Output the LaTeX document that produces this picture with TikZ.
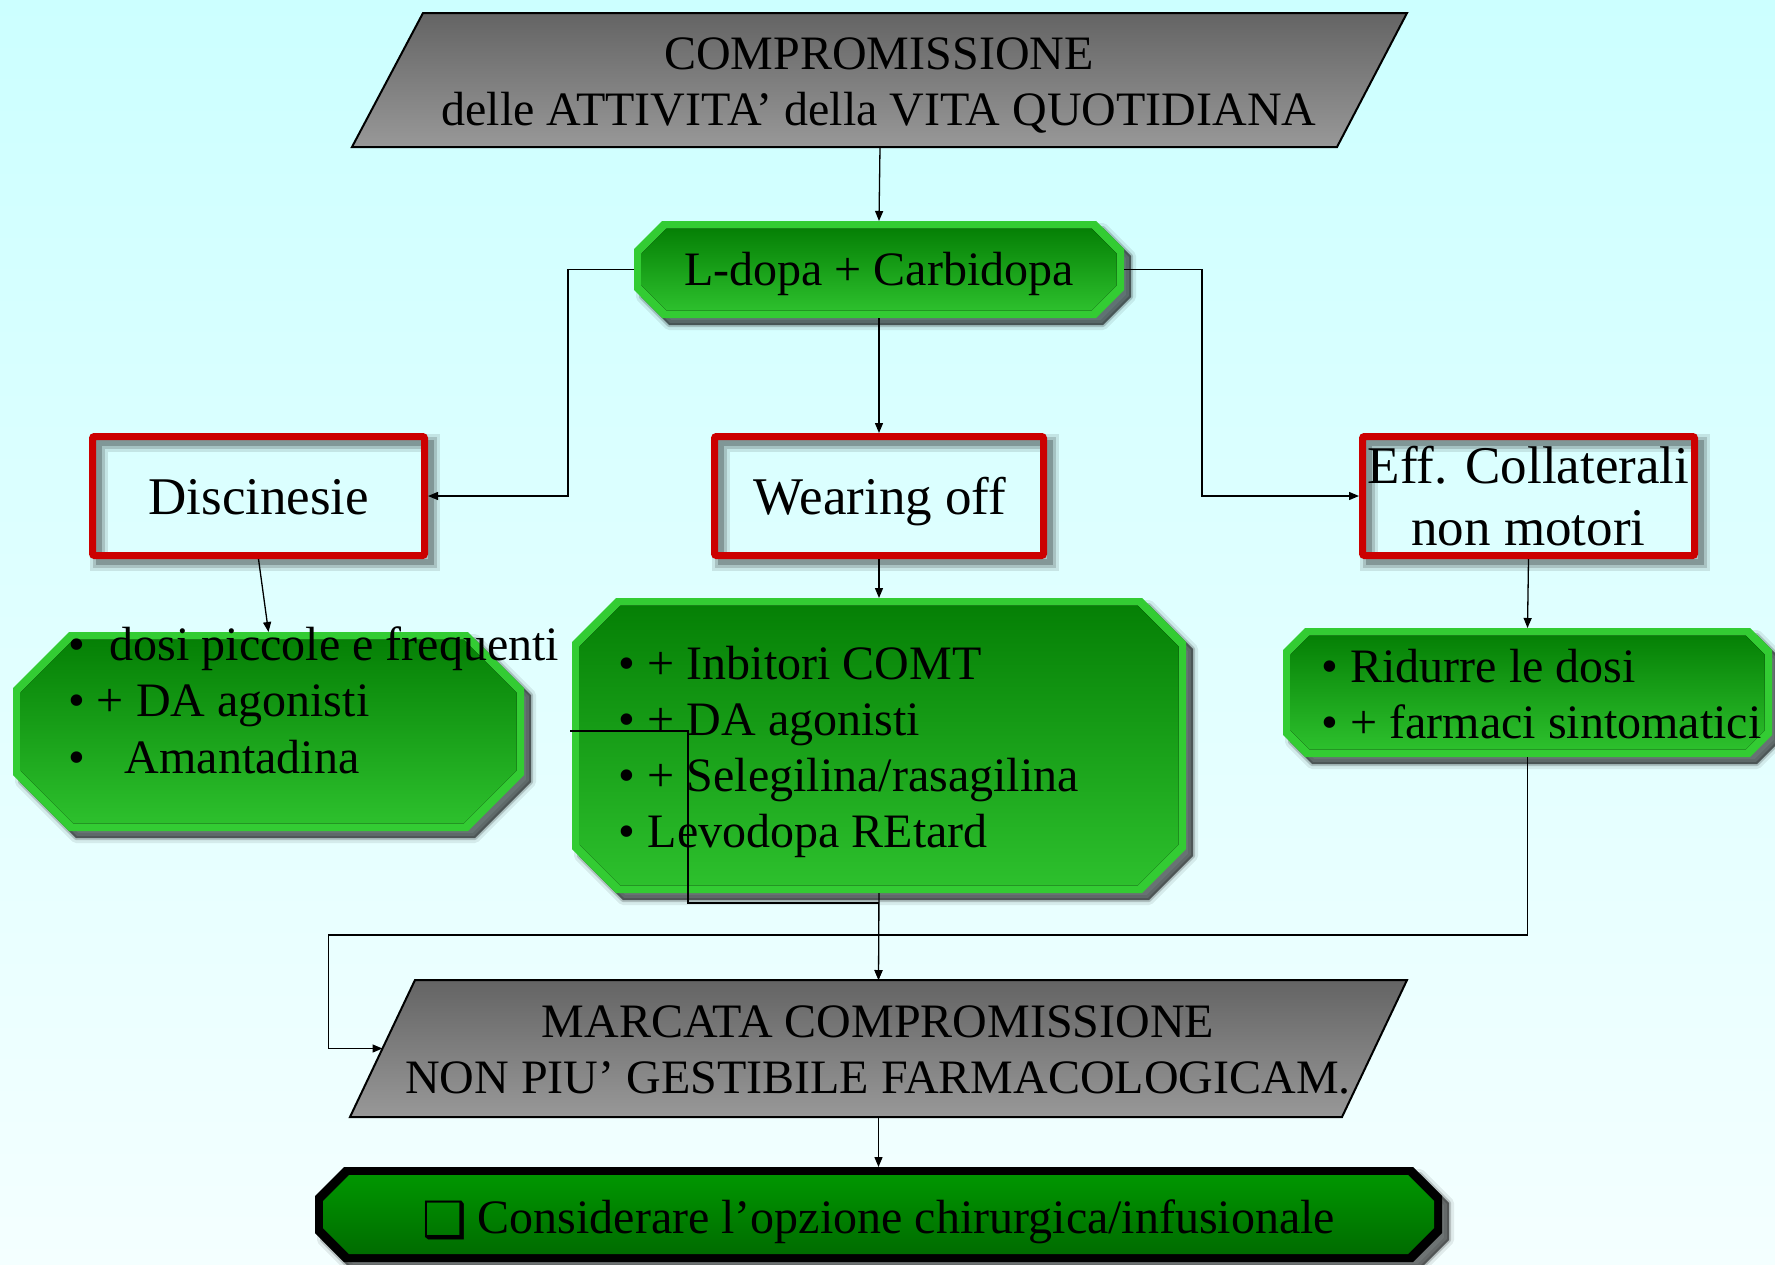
\documentclass[tikz,border=0pt]{standalone}
\usepackage{fontspec}
\setmainfont{Liberation Serif}
\newfontfamily\djv{DejaVu Sans}
\usetikzlibrary{arrows.meta,calc}

\definecolor{bgtop}{RGB}{204,255,255}
\definecolor{bgbot}{RGB}{244,255,255}
\definecolor{grtop}{RGB}{100,100,100}
\definecolor{grbot}{RGB}{152,152,152}
\definecolor{limeband}{RGB}{51,204,51}
\definecolor{gtop}{RGB}{5,128,5}
\definecolor{gbot}{RGB}{45,192,45}
\definecolor{otop}{RGB}{0,150,0}
\definecolor{obot}{RGB}{0,108,0}
\definecolor{rframe}{RGB}{204,0,0}

\newcommand\champ[5]{(#1+#5,#2) -- (#3-#5,#2) -- (#3,#2+#5) -- (#3,#4-#5) -- (#3-#5,#4) -- (#1+#5,#4) -- (#1,#4-#5) -- (#1,#2+#5) -- cycle}
\newcommand\softshadow[2][7]{%
  \begin{scope}[shift={(#1,#1)}]
    \fill[black,opacity=.55] #2;
    \draw[black,opacity=.18,line width=4pt,line join=round] #2;
    \draw[black,opacity=.08,line width=10pt,line join=round] #2;
  \end{scope}}
\newcommand\frameshadow[1]{%
  \begin{scope}[shift={(6,6)}]
    \draw[black,opacity=.10,line width=18pt] #1;
    \draw[black,opacity=.15,line width=12pt] #1;
    \draw[black,opacity=.22,line width=6pt] #1;
  \end{scope}}
\newcommand\fs{\rule{0pt}{40pt}}

\begin{document}
\begin{tikzpicture}[x=1pt,y=-1pt,
  box/.style={rectangle,inner sep=0pt,outer sep=0pt},
  arr/.style={-{Triangle[length=10pt,width=8pt]},line width=1.3pt,black},
  txt/.style={inner sep=0pt,outer sep=0pt,text=black},
  f48/.style={font=\fontsize{48}{56}\selectfont},
  f53/.style={font=\fontsize{53}{62}\selectfont},
  blist/.style={txt,align=left,anchor=north west},
  ctext/.style={txt,align=center,anchor=north},
  gray para/.style={top color=grtop,bottom color=grbot,draw=black,line width=2pt,line join=miter},
  red frame/.style={draw=rframe,line width=7pt,rounded corners=2pt}]

% canvas and background
\useasboundingbox (0,0) rectangle (1775,1264);
\fill[top color=bgtop,bottom color=bgbot] (0,0) rectangle (1775,1264);

% ---------- shadows ----------
\softshadow{\champ{634}{221}{1124}{318}{28}}
\softshadow{\champ{13}{632}{524}{831}{56}}
\softshadow{\champ{572}{598}{1186}{893}{44}}
\softshadow{\champ{1283}{628}{1772}{757}{22}}
\softshadow{\champ{315}{1167}{1442}{1262}{29}}
\frameshadow{(92.5,436.5) rectangle (424.5,555.5)}
\frameshadow{(714.5,436.5) rectangle (1043.5,555.5)}
\frameshadow{(1362.5,436.5) rectangle (1694.5,555.5)}

% ---------- shapes ----------
\path[gray para] (423,13) -- (1407,13) -- (1337,147) -- (352,147) -- cycle;
\path[gray para] (415,980) -- (1407,980) -- (1342,1117) -- (350,1117) -- cycle;

\fill[limeband] \champ{634}{221}{1124}{318}{28};
\fill[top color=gtop,bottom color=gbot] \champ{641.5}{228.5}{1116.5}{310.5}{25};
\fill[limeband] \champ{13}{632}{524}{831}{56};
\fill[top color=gtop,bottom color=gbot] \champ{20.5}{639.5}{516.5}{823.5}{53};
\fill[limeband] \champ{572}{598}{1186}{893}{44};
\fill[top color=gtop,bottom color=gbot] \champ{579.5}{605.5}{1178.5}{885.5}{41};
\fill[limeband] \champ{1283}{628}{1772}{757}{22};
\fill[top color=gtop,bottom color=gbot] \champ{1290.5}{635.5}{1764.5}{749.5}{19};
\fill[black] \champ{315}{1167}{1442}{1262}{29};
\fill[top color=otop,bottom color=obot] \champ{323}{1175}{1434}{1254}{26};

\draw[red frame] (92.5,436.5) rectangle (424.5,555.5);
\draw[red frame] (714.5,436.5) rectangle (1043.5,555.5);
\draw[red frame] (1362.5,436.5) rectangle (1694.5,555.5);

% ---------- named boxes ----------
\node[box,minimum width=985pt,minimum height=134pt] (ptop) at (880,80) {};
\node[box,minimum width=490pt,minimum height=97pt] (ldopa) at (879,269.5) {};
\node[box,minimum width=339pt,minimum height=126pt] (disc) at (258.5,496) {};
\node[box,minimum width=336pt,minimum height=126pt] (wear) at (879,496) {};
\node[box,minimum width=339pt,minimum height=126pt] (eff) at (1528.5,496) {};
\node[box,minimum width=511pt,minimum height=199pt] (dosi) at (268.5,731.5) {};
\node[box,minimum width=614pt,minimum height=295pt] (mid) at (879,745.5) {};
\node[box,minimum width=489pt,minimum height=129pt] (rbox) at (1527.5,692.5) {};
\node[box,minimum width=992pt,minimum height=137pt] (marc) at (878.5,1048.5) {};
\node[box,minimum width=1127pt,minimum height=95pt] (opt) at (878.5,1214.5) {};
\coordinate (oddend) at (570,731);

% ---------- texts ----------
\node[ctext,f48] (ptop-t) at (879,29) {\fs COMPROMISSIONE\\delle ATTIVITA’ della VITA QUOTIDIANA};
\node[txt,f48,anchor=base] (ldopa-t) at (879,285) {L-dopa + Carbidopa};
\node[txt,f53,anchor=base] (disc-t) at (258.8,514) {Discinesie};
\node[txt,f53,anchor=base] (wear-t) at (880,514) {Wearing off};
\node[ctext,f53] (eff-t) at (1528.5,443) {\fs Eff. Collaterali\\non motori};
\node[blist,font=\fontsize{48}{56.5}\selectfont] (dosi-t) at (68.3,620)
  {\fs•\hspace{24.9pt}dosi piccole e frequenti\\•\hspace{11.9pt}+ DA agonisti\\•\hspace{39.9pt}Amantadina};
\node[blist,f48] (mid-t) at (618.9,639)
  {\fs• + Inbitori COMT\\• + DA agonisti\\• + Selegilina/rasagilina\\• Levodopa REtard};
\node[blist,f48] (rbox-t) at (1321.6,642)
  {\fs• Ridurre le dosi\\• + farmaci sintomatici};
\node[ctext,f48] (marc-t) at (878,997) {\fs MARCATA COMPROMISSIONE\\NON PIU’ GESTIBILE FARMACOLOGICAM.};
\node[txt,f48,anchor=base] (opt-t) at (879,1233)
  {{\djv\fontsize{50}{50}\selectfont\raisebox{-4pt}{❑}}\hspace{10pt}Considerare l’opzione chirurgica/infusionale};

% ---------- connectors ----------
\draw[arr] (ptop.south) -- (ldopa.north);
\draw[arr] (ldopa.west) -- ++(-66,0) |- (disc.east);
\draw[arr] (ldopa.east) -- ++(78,0) |- (eff.west);
\draw[arr] (ldopa.south) -- (wear.north);
\draw[arr] (disc.south) -- (dosi.north);
\draw[arr] (wear.south) -- (mid.north);
\draw[arr] (eff.south) -- (rbox.north);
\draw[arr] (mid.south) -- (marc.north);
\draw[arr] (oddend) -- ++(118,0) -- ++(0,172) -| (marc.north);
\draw[arr] (rbox.south) -- ++(0,178) -| ([xshift=-54pt]marc.west) -- (marc.west);
\draw[arr] (marc.south) -- (opt.north);
\end{tikzpicture}
\end{document}
